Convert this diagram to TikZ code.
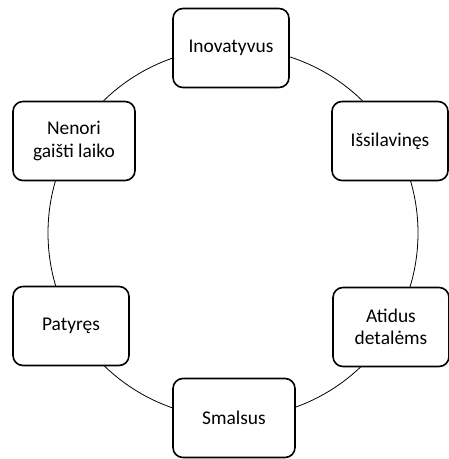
\documentclass[tikz,border=0pt]{standalone}
\usepackage{fontspec}
\setmainfont{Carlito}
\tikzset{
  trait/.style={draw, line width=1.6bp, fill=white, rounded corners=10bp,
    minimum width=116bp, minimum height=79bp, align=center, inner sep=2bp,
    font=\fontsize{19.5}{22.5}\selectfont}
}
\begin{document}
\begin{tikzpicture}[x=1bp,y=-1bp]
  \useasboundingbox (0,0) rectangle (449,459);
  \coordinate (mid) at (233,233);
  \draw[line width=0.8bp] (mid) circle (185bp);
  \node[trait] (inov) at (231,48) {Inovatyvus};
  \node[trait, minimum width=122bp] (nenori) at (74,141) {Nenori\\gaišti laiko};
  \node[trait] (issil) at (390,141) {Išsilavinęs};
  \node[trait] (patyr) at (71,326) {Patyręs};
  \node[trait] (atid) at (391,327) {Atidus\\detalėms};
  \node[trait, minimum width=122bp] (smals) at (234,418) {Smalsus};
\end{tikzpicture}
\end{document}
